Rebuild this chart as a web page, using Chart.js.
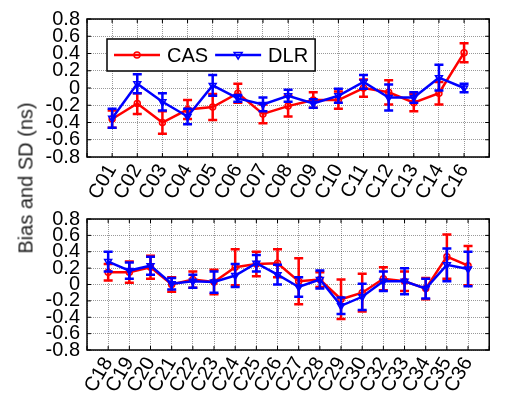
<!DOCTYPE html>
<html>
<head>
<meta charset="utf-8">
<script src="https://cdn.jsdelivr.net/npm/chart.js@4.4.1/dist/chart.umd.min.js"></script>
<style>
  body { margin: 0; background: #fff; }
  #wrap { position: relative; width: 513px; height: 397px; }
  canvas { position: absolute; left: 0; }
  #ytitle {
    position: absolute; left: 26px; top: 178px;
    transform: translate(-50%, -50%) rotate(-90deg);
    white-space: nowrap; font: 20px "Liberation Sans", Arial, sans-serif; color: #222;
  }
</style>
</head>
<body>
<div id="wrap">
  <canvas id="topChart" width="513" height="200" style="top:0"></canvas>
  <canvas id="bottomChart" width="513" height="197" style="top:200px"></canvas>
  <div id="ytitle">Bias and SD (ns)</div>
</div>
<script>
const topCats = ["C01", "C02", "C03", "C04", "C05", "C06", "C07", "C08", "C09", "C10", "C11", "C12", "C13", "C14", "C16"];
const casTop = [-0.36, -0.18, -0.40, -0.25, -0.22, -0.06, -0.30, -0.21, -0.14, -0.14, 0.00, -0.05, -0.17, -0.06, 0.41];
const casTopSd = [0.10, 0.12, 0.13, 0.11, 0.15, 0.11, 0.11, 0.12, 0.09, 0.10, 0.10, 0.14, 0.10, 0.13, 0.11];
const dlrTop = [-0.35, 0.05, -0.16, -0.33, 0.03, -0.12, -0.19, -0.09, -0.18, -0.09, 0.07, -0.11, -0.11, 0.12, 0.00];
const dlrTopSd = [0.11, 0.11, 0.10, 0.09, 0.12, 0.04, 0.08, 0.07, 0.05, 0.08, 0.08, 0.15, 0.06, 0.15, 0.05];

const bottomCats = ["C18", "C19", "C20", "C21", "C22", "C23", "C24", "C25", "C26", "C27", "C28", "C29", "C30", "C32", "C33", "C34", "C35", "C36"];
const casBottom = [0.15, 0.15, 0.21, 0.00, 0.06, 0.03, 0.21, 0.25, 0.26, 0.04, 0.06, -0.18, -0.10, 0.07, 0.04, -0.05, 0.34, 0.23];
const casBottomSd = [0.10, 0.13, 0.14, 0.09, 0.10, 0.15, 0.22, 0.15, 0.17, 0.28, 0.09, 0.24, 0.23, 0.14, 0.12, 0.13, 0.27, 0.24];
const dlrBottom = [0.28, 0.17, 0.23, 0.01, 0.04, 0.03, 0.11, 0.26, 0.12, -0.03, 0.06, -0.26, -0.15, 0.04, 0.04, -0.05, 0.24, 0.19];
const dlrBottomSd = [0.12, 0.10, 0.11, 0.07, 0.08, 0.13, 0.14, 0.10, 0.12, 0.12, 0.11, 0.10, 0.16, 0.12, 0.16, 0.12, 0.20, 0.21];

const seriesNames = ["CAS", "DLR"];
const fontFamily = "'Liberation Sans', Arial, sans-serif";

// error bars drawn right after each dataset, so blue stays above red
const errorBars = {
    id: "errorBars",
    afterDatasetDraw(chart, args) {
        const ds = chart.data.datasets[args.index];
        const y = chart.scales.y;
        const ctx = chart.ctx;
        ctx.save();
        ctx.strokeStyle = ds.borderColor;
        ctx.lineWidth = 2.5;
        ctx.beginPath();
        args.meta.data.forEach((pt, i) => {
            const v = ds.data[i];
            const e = ds.errors[i];
            if (v == null) return;
            const top = y.getPixelForValue(v + e);
            const bot = y.getPixelForValue(v - e);
            ctx.moveTo(pt.x, top); ctx.lineTo(pt.x, bot);
            ctx.moveTo(pt.x - 4.5, top); ctx.lineTo(pt.x + 4.5, top);
            ctx.moveTo(pt.x - 4.5, bot); ctx.lineTo(pt.x + 4.5, bot);
        });
        ctx.stroke();
        ctx.restore();
    }
};

function drawMarker(ctx, style, x, y, color) {
    ctx.strokeStyle = color;
    ctx.lineWidth = 1.5;
    ctx.beginPath();
    if (style === "circle") {
        ctx.arc(x, y, 3, 0, Math.PI * 2);
    } else {
        ctx.moveTo(x - 4, y - 2.5); ctx.lineTo(x + 4, y - 2.5); ctx.lineTo(x, y + 4); ctx.closePath();
    }
    ctx.stroke();
}

const frame = {
    id: "frame",
    afterDraw(chart, args, opts) {
        const { ctx, chartArea: a, scales } = chart;
        ctx.save();
        ctx.strokeStyle = "#000";
        ctx.lineWidth = 1;
        ctx.beginPath();
        scales.x.ticks.forEach((t, i) => {
            const px = scales.x.getPixelForTick(i);
            ctx.moveTo(px, a.bottom); ctx.lineTo(px, a.bottom - 4);
            ctx.moveTo(px, a.top); ctx.lineTo(px, a.top + 4);
        });
        scales.y.ticks.forEach((t, i) => {
            const py = scales.y.getPixelForTick(i);
            ctx.moveTo(a.left, py); ctx.lineTo(a.left + 4, py);
            ctx.moveTo(a.right, py); ctx.lineTo(a.right - 4, py);
        });
        ctx.stroke();
        ctx.lineWidth = 1.5;
        ctx.strokeRect(a.left, a.top, a.right - a.left, a.bottom - a.top);

        if (opts.legend) {
            const dsets = chart.data.datasets;
            ctx.font = "20px " + fontFamily;
            const bx = a.left + 20, by = a.top + 20, bh = 32;
            let w = 7;
            dsets.forEach(ds => { w += 46 + 7 + ctx.measureText(ds.label).width + 7; });
            ctx.fillStyle = "#fff";
            ctx.fillRect(bx, by, w, bh);
            ctx.lineWidth = 1.5;
            ctx.strokeStyle = "#000";
            ctx.strokeRect(bx, by, w, bh);
            let x = bx + 7;
            const cy = by + bh / 2;
            dsets.forEach(ds => {
                ctx.strokeStyle = ds.borderColor;
                ctx.lineWidth = 2.5;
                ctx.beginPath(); ctx.moveTo(x, cy); ctx.lineTo(x + 46, cy); ctx.stroke();
                drawMarker(ctx, ds.pointStyle, x + 23, cy, ds.borderColor);
                x += 53;
                ctx.fillStyle = "#000";
                ctx.textBaseline = "middle";
                ctx.fillText(ds.label, x, cy + 1);
                x += ctx.measureText(ds.label).width + 7;
            });
        }
        ctx.restore();
    }
};

function pad(arr) {
    return [null, ...arr, null];
}

function makeChart(id, cats, cas, casSd, dlr, dlrSd, xHeight, padding, legend) {
    const gridOpts = { color: "rgba(0,0,0,0.4)", lineWidth: 1, drawTicks: false };
    const borderOpts = { display: false, dash: [1, 1] };
    return new Chart(document.getElementById(id), {
        type: "line",
        data: {
            labels: ["", ...cats, ""],
            datasets: [{
                label: seriesNames[0],
                data: pad(cas),
                errors: pad(casSd),
                borderColor: "#ff0000",
                borderWidth: 2.5,
                pointStyle: "circle",
                pointRadius: 3,
                pointBorderWidth: 1.5,
                pointBackgroundColor: "rgba(0,0,0,0)",
                pointBorderColor: "#ff0000",
                order: 2
            }, {
                label: seriesNames[1],
                data: pad(dlr),
                errors: pad(dlrSd),
                borderColor: "#0000ff",
                borderWidth: 2.5,
                pointStyle: "triangle",
                pointRotation: 180,
                pointRadius: 4,
                pointBorderWidth: 1.5,
                pointBackgroundColor: "rgba(0,0,0,0)",
                pointBorderColor: "#0000ff",
                order: 1
            }]
        },
        options: {
            responsive: false,
            animation: false,
            layout: { padding: padding },
            plugins: {
                legend: { display: false },
                tooltip: { enabled: false },
                frame: { legend: legend }
            },
            scales: {
                x: {
                    offset: false,
                    grid: gridOpts,
                    border: borderOpts,
                    ticks: {
                        autoSkip: false,
                        minRotation: 60,
                        maxRotation: 60,
                        padding: 3,
                        color: "#000",
                        font: { family: fontFamily, size: 20 }
                    },
                    afterFit: s => { s.height = xHeight; }
                },
                y: {
                    min: -0.8,
                    max: 0.8,
                    grid: gridOpts,
                    border: borderOpts,
                    ticks: {
                        autoSkip: false,
                        stepSize: 0.2,
                        padding: 7,
                        color: "#000",
                        font: { family: fontFamily, size: 20 },
                        callback: v => Math.abs(v) < 1e-9 ? "0" : v.toFixed(1)
                    },
                    afterFit: s => { s.width = 87; }
                }
            }
        },
        plugins: [errorBars, frame]
    });
}

makeChart("topChart", topCats, casTop, casTopSd, dlrTop, dlrTopSd, 43, { top: 13, right: 4, left: 0, bottom: 0 }, true);
makeChart("bottomChart", bottomCats, casBottom, casBottomSd, dlrBottom, dlrBottomSd, 47, { top: 5, right: 4, left: 0, bottom: 0 }, false);
</script>
</body>
</html>
